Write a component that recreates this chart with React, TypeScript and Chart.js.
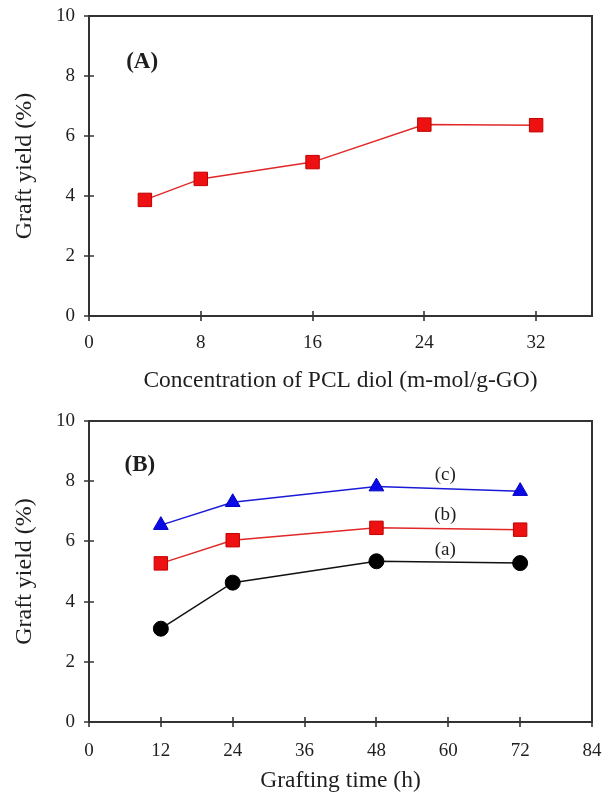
import React, { useEffect, useRef } from 'react';
import { Chart, registerables } from 'chart.js';

Chart.register(...registerables);

const FONT = '"Liberation Serif", "Times New Roman", serif';
const TEXT = '#1e1e1e';

// Panel A
const concentration = [4, 8, 16, 24, 32];
const yieldA = [3.87, 4.57, 5.13, 6.38, 6.36];
const xTicksA = [0, 8, 16, 24, 32];
const xMaxA = 36;

// Panel B
const graftTime = [12, 24, 48, 72];
const yieldBa = [3.1, 4.63, 5.34, 5.28];
const yieldBb = [5.27, 6.04, 6.45, 6.39];
const yieldBc = [6.54, 7.3, 7.82, 7.67];
const xTicksB = [0, 12, 24, 36, 48, 60, 72, 84];
const xMaxB = 84;

const yTicks = [0, 2, 4, 6, 8, 10];

// Curve annotations for panel B (data coordinates)
const curveLabels = ['(a)', '(b)', '(c)'];
const curveLabelX = [59.5, 59.5, 59.5];
const curveLabelY = [5.71, 6.86, 8.2];

// Panel tags (data coordinates)
const panelTagA = { text: '(A)', x: 3.8, y: 8.47 };
const panelTagB = { text: '(B)', x: 8.5, y: 8.54 };

const framePlugin = {
  id: 'frame',
  beforeDatasetsDraw(chart: any) {
    const { ctx, chartArea: a, scales } = chart;
    ctx.save();
    ctx.strokeStyle = '#333333';
    ctx.lineWidth = 2;
    ctx.strokeRect(a.left, a.top, a.right - a.left, a.bottom - a.top);
    ctx.lineWidth = 1.6;
    ctx.beginPath();
    scales.x.ticks.forEach((t: any) => {
      const px = Math.round(scales.x.getPixelForValue(t.value));
      ctx.moveTo(px, a.bottom - 5);
      ctx.lineTo(px, a.bottom + 5);
    });
    scales.y.ticks.forEach((t: any) => {
      const py = Math.round(scales.y.getPixelForValue(t.value));
      ctx.moveTo(a.left - 5, py);
      ctx.lineTo(a.left + 5, py);
    });
    ctx.stroke();
    ctx.restore();
  },
  afterDatasetsDraw(chart: any, _args: any, opts: any) {
    const { ctx, scales } = chart;
    ctx.save();
    ctx.fillStyle = TEXT;
    ctx.textAlign = 'center';
    ctx.textBaseline = 'middle';
    (opts.texts || []).forEach((t: any) => {
      ctx.font = `${t.bold ? 'bold ' : ''}${t.size}px ${FONT}`;
      ctx.fillText(t.text, scales.x.getPixelForValue(t.x), scales.y.getPixelForValue(t.y));
    });
    ctx.restore();
  },
};

function makeOptions(cfg: {
  xMax: number;
  xTicks: number[];
  xTitle: string;
  top: number;
  xHeight: number;
  titlePad: number;
  tickPad: number;
  texts: any[];
}) {
  return {
    responsive: false,
    animation: false,
    devicePixelRatio: 1,
    layout: { padding: { left: 0, top: cfg.top, right: 21, bottom: 0 } },
    plugins: {
      legend: { display: false },
      tooltip: { enabled: false },
      frame: { texts: cfg.texts },
    },
    scales: {
      x: {
        type: 'linear',
        min: 0,
        max: cfg.xMax,
        grid: { display: false, drawTicks: false },
        border: { display: false },
        afterBuildTicks: (s: any) => {
          s.ticks = cfg.xTicks.map((v) => ({ value: v }));
        },
        afterFit: (s: any) => {
          s.height = cfg.xHeight;
          s.paddingLeft = 0;
          s.paddingRight = 0;
        },
        ticks: {
          color: TEXT,
          padding: cfg.tickPad,
          maxRotation: 0,
          autoSkip: false,
          font: { family: FONT, size: 19 },
        },
        title: {
          display: true,
          text: cfg.xTitle,
          color: TEXT,
          padding: { top: 0, bottom: cfg.titlePad },
          font: { family: FONT, size: 23.5, lineHeight: 1 },
        },
      },
      y: {
        type: 'linear',
        min: 0,
        max: 10,
        grid: { display: false, drawTicks: false },
        border: { display: false },
        afterBuildTicks: (s: any) => {
          s.ticks = yTicks.map((v) => ({ value: v }));
        },
        afterFit: (s: any) => {
          s.width = 89;
          s.paddingTop = 0;
          s.paddingBottom = 0;
        },
        ticks: {
          color: TEXT,
          padding: 14,
          font: { family: FONT, size: 19 },
        },
        title: {
          display: true,
          text: 'Graft yield (%)',
          color: TEXT,
          padding: { top: 13, bottom: 0 },
          font: { family: FONT, size: 24, lineHeight: 1 },
        },
      },
    },
  } as any;
}

function PanelA() {
  const ref = useRef<HTMLCanvasElement>(null);
  useEffect(() => {
    const chart = new Chart(ref.current as HTMLCanvasElement, {
      type: 'line',
      data: {
        datasets: [
          {
            data: concentration.map((x, i) => ({ x, y: yieldA[i] })),
            borderColor: '#e02828',
            borderWidth: 1.5,
            pointStyle: 'rect',
            pointRadius: 9.5,
            pointBackgroundColor: '#ee1111',
            pointBorderColor: '#c00000',
            pointBorderWidth: 1,
          },
        ],
      },
      options: makeOptions({
        xMax: xMaxA,
        xTicks: xTicksA,
        xTitle: 'Concentration of PCL diol (m-mol/g-GO)',
        top: 16,
        xHeight: 81,
        titlePad: 4,
        tickPad: 16,
        texts: [{ ...panelTagA, size: 23, bold: true }],
      }),
      plugins: [framePlugin],
    });
    return () => chart.destroy();
  }, []);
  return <canvas ref={ref} width={613} height={397} style={{ display: 'block', width: 613, height: 397 }} />;
}

function PanelB() {
  const ref = useRef<HTMLCanvasElement>(null);
  useEffect(() => {
    const chart = new Chart(ref.current as HTMLCanvasElement, {
      type: 'line',
      data: {
        datasets: [
          {
            data: graftTime.map((x, i) => ({ x, y: yieldBa[i] })),
            borderColor: '#111111',
            borderWidth: 1.5,
            pointStyle: 'circle',
            pointRadius: 7.5,
            pointBackgroundColor: '#000000',
            pointBorderColor: '#000000',
            pointBorderWidth: 1,
          },
          {
            data: graftTime.map((x, i) => ({ x, y: yieldBb[i] })),
            borderColor: '#e02828',
            borderWidth: 1.5,
            pointStyle: 'rect',
            pointRadius: 9.5,
            pointBackgroundColor: '#ee1111',
            pointBorderColor: '#c00000',
            pointBorderWidth: 1,
          },
          {
            data: graftTime.map((x, i) => ({ x, y: yieldBc[i] })),
            borderColor: '#1a1ad8',
            borderWidth: 1.5,
            pointStyle: 'triangle',
            pointRadius: 8.5,
            pointBackgroundColor: '#0a0ae6',
            pointBorderColor: '#0000c0',
            pointBorderWidth: 1,
          },
        ],
      },
      options: makeOptions({
        xMax: xMaxB,
        xTicks: xTicksB,
        xTitle: 'Grafting time (h)',
        top: 24,
        xHeight: 72,
        titlePad: 1,
        tickPad: 18,
        texts: [
          { ...panelTagB, size: 23, bold: true },
          ...curveLabels.map((text, i) => ({ text, x: curveLabelX[i], y: curveLabelY[i], size: 19 })),
        ],
      }),
      plugins: [framePlugin],
    });
    return () => chart.destroy();
  }, []);
  return <canvas ref={ref} width={613} height={397} style={{ display: 'block', width: 613, height: 397 }} />;
}

export default function App() {
  return (
    <div style={{ position: 'absolute', left: 0, top: 0, width: 613, height: 794, background: '#ffffff' }}>
      <PanelA />
      <PanelB />
    </div>
  );
}
